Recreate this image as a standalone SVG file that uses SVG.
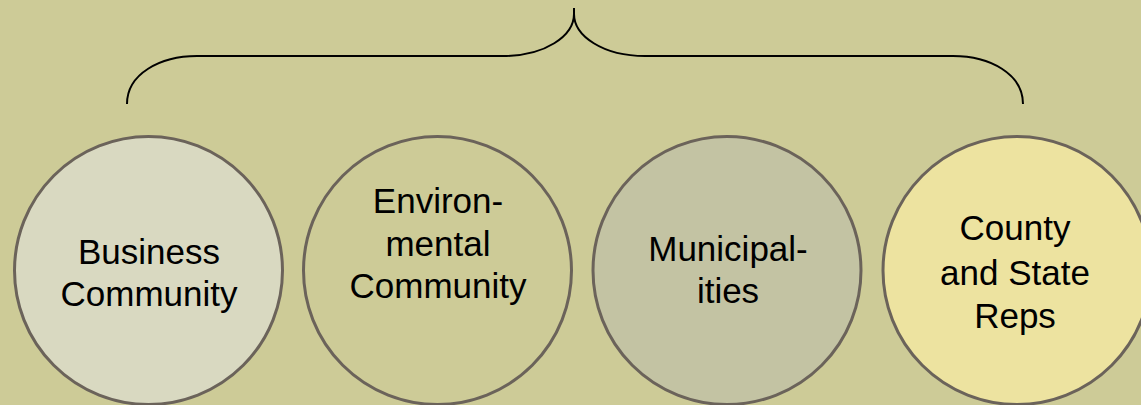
<svg xmlns="http://www.w3.org/2000/svg" width="1141" height="405" viewBox="0 0 1141 405">
<style>
.bg{fill:#cdcb97}
.node circle{stroke:#6b635a;stroke-width:3}
.node text{font-family:"Liberation Sans",Arial,sans-serif;font-size:35px;fill:#000;text-anchor:middle}
.brace{fill:none;stroke:#000;stroke-width:2}
</style>
<rect class="bg" x="0" y="0" width="1141" height="405"/>
<g id="connectors">
<path class="brace" d="M127,104 C127,74 160,56 197,56 L503,56 C545,56 574,36 574,14 L574,8 M574,14 C574,36 603,56 645,56 L953,56 C990,56 1023,74 1023,104"/>
</g>
<g id="business" class="node">
<circle cx="148.5" cy="270.5" r="134" fill="#d9d9c1"/>
<text x="149" y="264">Business</text>
<text x="149" y="306">Community</text>
</g>
<g id="environmental" class="node">
<circle cx="437.5" cy="270.5" r="134" fill="#cdcb97"/>
<text x="438" y="213">Environ-</text>
<text x="438" y="256">mental</text>
<text x="438" y="298">Community</text>
</g>
<g id="municipalities" class="node">
<circle cx="727" cy="270.5" r="134" fill="#c3c3a3"/>
<text x="728" y="261">Municipal-</text>
<text x="728" y="303">ities</text>
</g>
<g id="county" class="node">
<circle cx="1017" cy="270.5" r="134" fill="#ede3a0"/>
<text x="1015" y="240">County</text>
<text x="1015" y="285">and State</text>
<text x="1015" y="328">Reps</text>
</g>
</svg>
